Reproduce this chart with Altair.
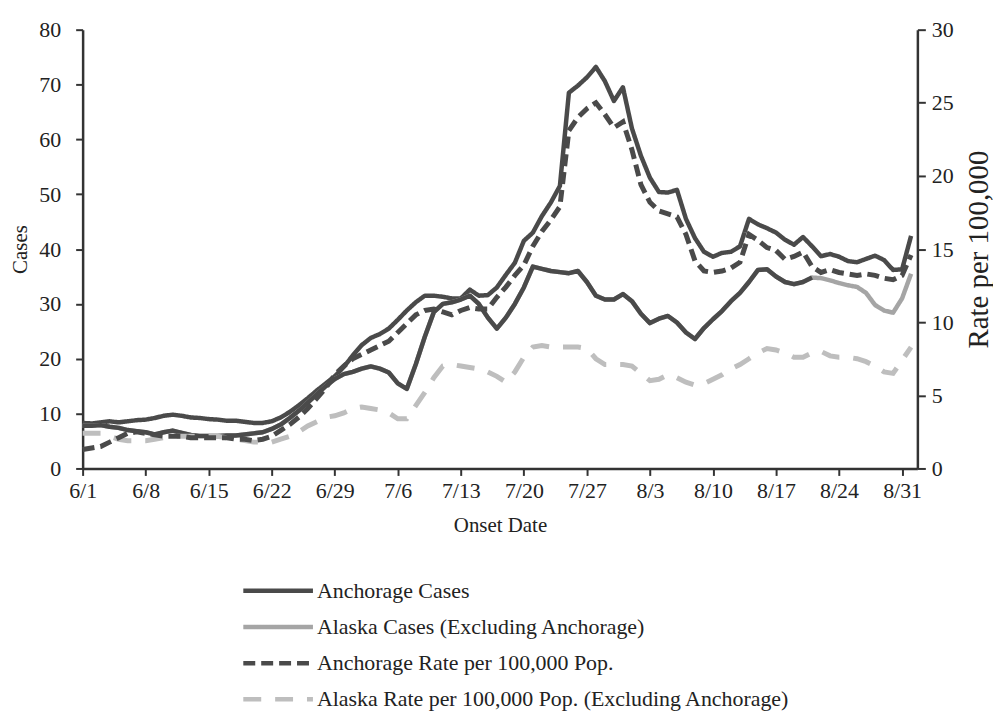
import altair as alt
import pandas as pd

# ---- data (day 0 = 6/1) ----
tick_days = [0, 7, 14, 21, 28, 35, 42, 49, 56, 63, 70, 77, 84, 91]
tick_labels = ["6/1", "6/8", "6/15", "6/22", "6/29", "7/6", "7/13", "7/20",
               "7/27", "8/3", "8/10", "8/17", "8/24", "8/31"]

anch_cases = [8.3, 8.2, 8.4, 8.6, 8.4, 8.6, 8.8, 8.9, 9.2, 9.6, 9.8, 9.6, 9.3, 9.2,
              9.0, 8.9, 8.7, 8.7, 8.5, 8.3, 8.3, 8.6, 9.3, 10.3, 11.5, 12.8, 14.2, 15.5,
              16.8, 18.5, 20.6, 22.5, 23.8, 24.5, 25.5, 27.1, 28.8, 30.3, 31.5, 31.5, 31.3, 31.0,
              31.0, 32.6, 31.5, 31.6, 33.0, 35.3, 37.5, 41.5, 43.0, 46.0, 48.5, 51.5, 68.5, 69.8,
              71.3, 73.2, 70.6, 67.0, 69.5, 62.0, 57.0, 53.0, 50.4, 50.3, 50.8, 45.5, 42.0, 39.5,
              38.6, 39.3, 39.5, 40.5, 45.5, 44.5, 43.8, 43.0, 41.7, 40.8, 42.2, 40.5, 38.7, 39.1,
              38.6, 37.8, 37.6, 38.2, 38.8, 38.0, 36.2, 36.3, 42.4]

ak_cases = [7.8, 7.8, 7.9, 7.6, 7.4, 7.0, 6.8, 6.6, 6.2, 6.6, 6.9, 6.5, 6.1, 5.9,
            5.9, 5.9, 6.0, 6.0, 6.2, 6.4, 6.6, 7.2, 8.0, 9.2, 10.5, 12.0, 13.5, 15.0,
            16.3, 17.2, 17.6, 18.2, 18.6, 18.2, 17.5, 15.5, 14.5, 19.0, 24.0, 28.5, 30.0, 30.3,
            30.8, 31.5, 30.0, 27.5, 25.5, 27.5, 30.0, 33.0, 36.8, 36.4, 36.0, 35.8, 35.6, 36.0,
            34.0, 31.5, 30.8, 30.8, 31.8, 30.5, 28.2, 26.5, 27.3, 27.8, 26.6, 24.8, 23.6, 25.6,
            27.2, 28.7, 30.5, 32.0, 34.0, 36.2, 36.3, 35.0, 34.0, 33.6, 34.0, 34.8, 34.7, 34.3,
            33.8, 33.4, 33.1, 32.0, 29.8, 28.8, 28.4, 31.0, 35.5]

anch_rate = [1.3, 1.4, 1.5, 1.8, 2.1, 2.4, 2.5, 2.4, 2.3, 2.2, 2.2, 2.2, 2.1, 2.1,
             2.1, 2.1, 2.1, 2.0, 2.0, 1.9, 2.0, 2.2, 2.6, 3.0, 3.5, 4.1, 4.8, 5.5,
             6.4, 7.0, 7.5, 7.8, 8.1, 8.4, 8.7, 9.3, 9.9, 10.5, 10.8, 10.9, 10.7, 10.5,
             10.8, 11.0, 10.9, 10.9, 11.7, 12.4, 13.2, 13.9, 15.2, 16.2, 17.0, 17.9, 23.1, 24.0,
             24.6, 25.0, 24.2, 23.3, 23.7, 21.8, 19.4, 18.2, 17.6, 17.4, 17.2, 16.0, 14.2, 13.5,
             13.4, 13.5, 13.7, 14.1, 16.0, 15.6, 15.1, 14.9, 14.3, 14.5, 14.8, 13.8, 13.4, 13.6,
             13.4, 13.3, 13.2, 13.3, 13.2, 13.0, 12.9, 13.2, 14.6]

ak_rate = [2.4, 2.4, 2.4, 2.2, 2.0, 1.9, 1.9, 1.9, 2.0, 2.1, 2.2, 2.2, 2.2, 2.2,
           2.2, 2.2, 2.1, 2.0, 1.9, 1.8, 1.8, 1.8, 2.0, 2.2, 2.5, 2.9, 3.2, 3.5,
           3.6, 3.8, 4.1, 4.2, 4.1, 4.0, 3.8, 3.4, 3.4, 4.3, 5.2, 6.2, 7.0, 7.1,
           7.0, 6.9, 6.8, 6.6, 6.3, 5.9, 6.6, 7.6, 8.3, 8.4, 8.3, 8.3, 8.3, 8.3,
           8.2, 7.5, 7.1, 7.1, 7.1, 7.0, 6.5, 6.0, 6.1, 6.4, 6.2, 5.9, 5.7, 5.8,
           6.1, 6.4, 6.8, 7.1, 7.5, 7.9, 8.2, 8.1, 7.9, 7.6, 7.6, 7.9, 8.0, 7.7,
           7.6, 7.6, 7.5, 7.3, 7.0, 6.6, 6.5, 7.4, 8.3]

series_names = ["Anchorage Cases",
                "Alaska Cases (Excluding Anchorage)",
                "Anchorage Rate per 100,000 Pop.",
                "Alaska Rate per 100,000 Pop. (Excluding Anchorage)"]
series_colors = ["#4a4a4a", "#a5a5a5", "#4a4a4a", "#bebebe"]
series_dashes = [[1, 0], [1, 0], [12, 6], [18, 14]]
dark_until_day = 81  # the scanned Alaska-cases line prints dark up to here

days = list(range(len(anch_cases)))

cases_df = pd.concat([
    pd.DataFrame({"day": days, "value": anch_cases, "series": series_names[0]}),
    pd.DataFrame({"day": days, "value": ak_cases, "series": series_names[1]}),
])
rate_df = pd.concat([
    pd.DataFrame({"day": days, "value": ak_rate, "series": series_names[3]}),
    pd.DataFrame({"day": days, "value": anch_rate, "series": series_names[2]}),
])
dark_df = pd.DataFrame({"day": days[:dark_until_day + 1],
                        "value": ak_cases[:dark_until_day + 1]})
legend_df = pd.DataFrame({"series": series_names})

FONT = "Liberation Serif"
label_expr = "[" + ",".join("'%s'" % t for t in tick_labels) + "][round(datum.value/7)]"

color_scale = alt.Scale(domain=series_names, range=series_colors)
dash_scale = alt.Scale(domain=series_names, range=series_dashes)

x_enc = alt.X("day:Q",
              scale=alt.Scale(domain=[0, 92.7], nice=False, zero=False),
              axis=alt.Axis(values=tick_days, labelExpr=label_expr, title="Onset Date",
                            tickSize=7, labelPadding=5, titlePadding=13,
                            labelFlush=False))
color_enc = alt.Color("series:N", scale=color_scale, legend=None)
dash_enc = alt.StrokeDash("series:N", scale=dash_scale, legend=None)

left_y = alt.Y("value:Q", scale=alt.Scale(domain=[0, 80], nice=False),
               axis=alt.Axis(values=list(range(0, 81, 10)), title="Cases",
                             tickSize=7, labelPadding=15, titlePadding=8))
right_y = alt.Y("value:Q", scale=alt.Scale(domain=[0, 30], nice=False),
                axis=alt.Axis(values=list(range(0, 31, 5)), orient="right",
                              title="Rate per 100,000", titleAngle=270, titleFontSize=29,
                              tickSize=8, labelPadding=6, titlePadding=40))

cases_lines = alt.Chart(cases_df).mark_line(strokeWidth=4.5, strokeJoin="round").encode(
    x=x_enc, y=left_y, color=color_enc, strokeDash=dash_enc, detail="series:N")
dark_part = alt.Chart(dark_df).mark_line(strokeWidth=4.5, color="#4a4a4a",
                                          strokeJoin="round").encode(
    x=alt.X("day:Q"), y=alt.Y("value:Q"))
rate_lines = alt.Chart(rate_df).mark_line(strokeWidth=5).encode(
    x=x_enc, y=right_y, color=color_enc, strokeDash=dash_enc, detail="series:N")

main = alt.layer(alt.layer(cases_lines, dark_part), rate_lines).resolve_scale(
    y="independent").properties(width=839, height=441)

# ---- legend drawn below the plot ----
leg_y = alt.Y("series:N", scale=alt.Scale(domain=series_names, type="point", padding=0.3),
              axis=None)
leg_sym = alt.Chart(legend_df).mark_rule(strokeWidth=4.5).encode(
    y=leg_y, x=alt.value(0), x2=alt.value(70),
    color=alt.Color("series:N", scale=color_scale, legend=None),
    strokeDash=alt.StrokeDash("series:N", scale=dash_scale, legend=None))
leg_txt = alt.Chart(legend_df).mark_text(align="left", baseline="middle", dx=4,
                                         font=FONT, fontSize=22, color="#222").encode(
    y=leg_y, x=alt.value(70), text="series:N")
legend = alt.layer(leg_sym, leg_txt).properties(width=592, height=131)

chart = alt.vconcat(main, legend, spacing=44, center=True).properties(
    padding={"left": 2, "top": 9, "right": 0, "bottom": 0},
).configure_view(stroke=None).configure_axis(
    grid=False, domainColor="#333", domainWidth=2.5, tickColor="#333", tickWidth=2,
    labelFont=FONT, labelFontSize=22, labelColor="#222",
    titleFont=FONT, titleFontSize=21, titleFontWeight="normal", titleColor="#222",
)

chart.save("out.html", embed_options={"renderer": "svg", "actions": False})
